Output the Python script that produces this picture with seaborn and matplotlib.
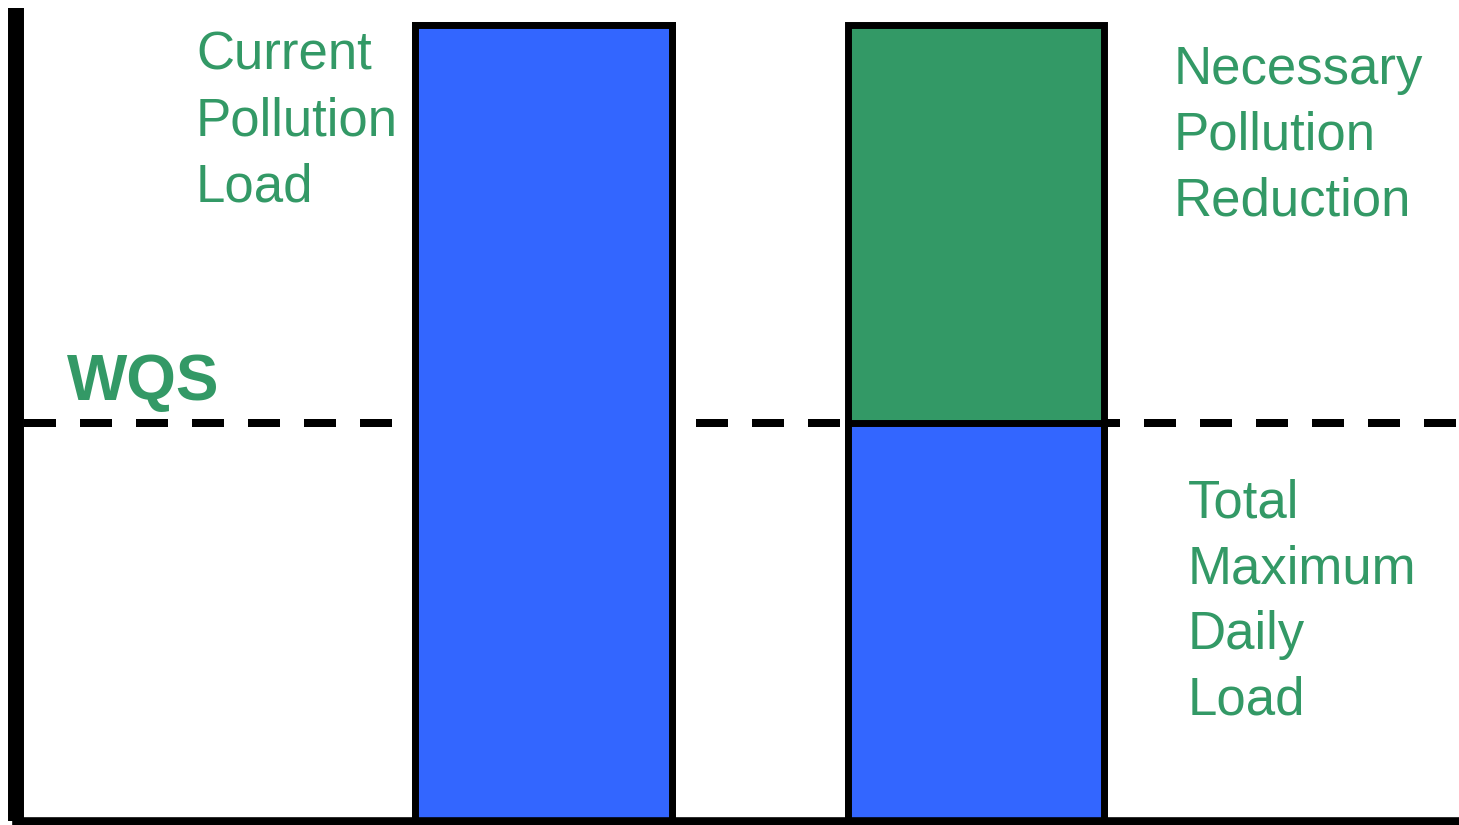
import matplotlib
matplotlib.use("Agg")
import matplotlib.pyplot as plt
import seaborn as sns

# ---- data ----
categories = ["Current Pollution Load", "TMDL"]
allowed_load = [100, 50]        # blue part (load)
necessary_reduction = [0, 50]   # green part stacked above the load
wqs_level = 50

label_current = "Current\nPollution\nLoad"
label_reduction = "Necessary\nPollution\nReduction"
label_tmdl = "Total\nMaximum\nDaily\nLoad"
label_wqs = "WQS"

# ---- style ----
BLUE = "#3366FF"
GREEN = "#339966"
W, H = 1459, 825
DPI = 100

sns.set_theme(style="white")
plt.rcParams["font.family"] = ["Liberation Sans", "DejaVu Sans"]

fig = plt.figure(figsize=(W / DPI, H / DPI), dpi=DPI)
ax = fig.add_axes([16 / W, 4 / H, (W - 16) / W, 813 / H])

totals = [a + r for a, r in zip(allowed_load, necessary_reduction)]
bar_kw = dict(edgecolor="black", linewidth=5.0, width=0.5925, saturation=1,
              zorder=2, ax=ax)
sns.barplot(x=categories, y=totals, color=GREEN, **bar_kw)
sns.barplot(x=categories, y=allowed_load, color=BLUE, **bar_kw)

ax.axhline(wqs_level, color="black", linewidth=5.76,
           linestyle=(6, (4, 3)), zorder=1)

ax.set_xlim(-1.2208, 2.1187)
ax.set_ylim(0, 102.1)
ax.set_xticks([])
ax.set_yticks([])
ax.set_xlabel("")
ax.set_ylabel("")

for side in ("top", "right"):
    ax.spines[side].set_visible(False)
ax.spines["left"].set_linewidth(11.5)
ax.spines["left"].set_color("black")
ax.spines["left"].set_capstyle("butt")
ax.spines["bottom"].set_linewidth(6.2)
ax.spines["bottom"].set_color("black")
ax.spines["left"].set_zorder(3)
ax.spines["bottom"].set_zorder(3)


def fx(px):
    return px / W


def fy(py):
    return 1 - py / H


txt_kw = dict(color=GREEN, ha="left", va="top", fontsize=38, linespacing=1.40)
fig.text(fx(196), fy(31), label_current, **txt_kw)
fig.text(fx(1174), fy(45), label_reduction, **txt_kw)
fig.text(fx(1188), fy(479), label_tmdl, **txt_kw)
fig.text(fx(67), fy(353), label_wqs, color=GREEN, ha="left", va="top",
         fontsize=46, fontweight="bold")

fig.savefig("out.png", dpi=DPI, facecolor="white")
